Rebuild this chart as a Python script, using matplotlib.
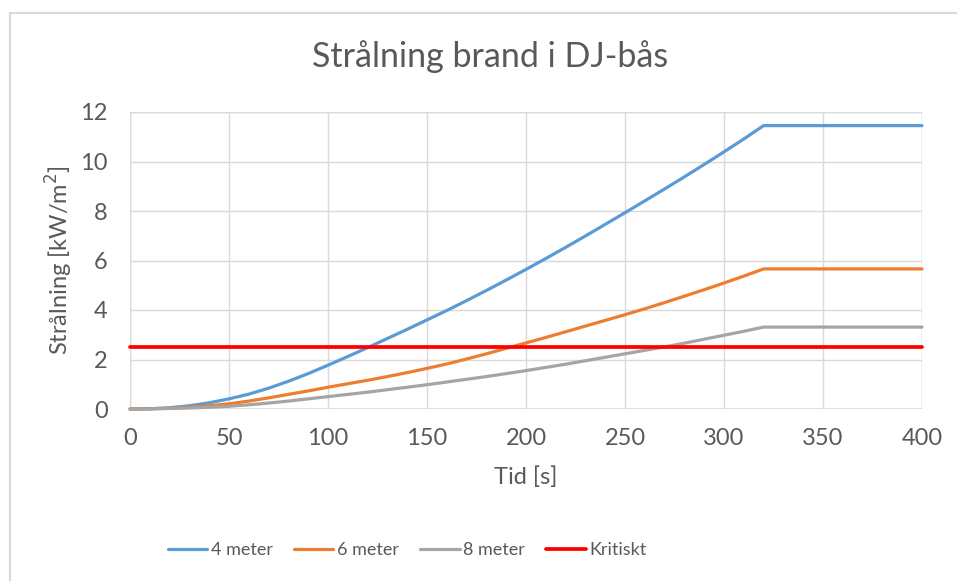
import matplotlib
matplotlib.use("Agg")
import matplotlib.pyplot as plt
from matplotlib.patches import Rectangle

plt.rcParams['font.family'] = ['Lato', 'DejaVu Sans']

# Time axis [s]
tid = [0, 10, 20, 30, 40, 50, 60, 70, 80, 90, 100, 110, 120, 130, 140, 150, 160,
       170, 180, 190, 200, 210, 220, 230, 240, 250, 260, 270, 280, 290, 300, 310, 320, 400]

# Radiation [kW/m2] at three distances from the fire
meter_4 = [0, 0.01, 0.05, 0.13, 0.25, 0.41, 0.60, 0.84, 1.12, 1.43, 1.77, 2.12, 2.48, 2.85,
           3.22, 3.60, 3.98, 4.38, 4.79, 5.21, 5.64, 6.08, 6.53, 6.99, 7.46, 7.93, 8.41,
           8.89, 9.38, 9.88, 10.39, 10.91, 11.45, 11.45]
meter_6 = [0, 0.01, 0.03, 0.07, 0.13, 0.21, 0.32, 0.45, 0.59, 0.73, 0.88, 1.02, 1.16, 1.31,
           1.47, 1.64, 1.82, 2.02, 2.23, 2.45, 2.67, 2.89, 3.12, 3.35, 3.58, 3.81, 4.05,
           4.30, 4.56, 4.82, 5.09, 5.37, 5.66, 5.66]
meter_8 = [0, 0.005, 0.02, 0.04, 0.07, 0.11, 0.17, 0.24, 0.32, 0.41, 0.50, 0.59, 0.68, 0.78,
           0.88, 0.98, 1.09, 1.20, 1.31, 1.43, 1.55, 1.68, 1.81, 1.95, 2.09, 2.23, 2.37,
           2.51, 2.66, 2.82, 2.98, 3.14, 3.31, 3.31]
kritiskt = [2.5] * len(tid)

series = [
    ("4 meter", meter_4, "#5B9BD5"),
    ("6 meter", meter_6, "#ED7D31"),
    ("8 meter", meter_8, "#A5A5A5"),
    ("Kritiskt", kritiskt, "#FF0000"),
]

x_ticks = [0, 50, 100, 150, 200, 250, 300, 350, 400]
y_ticks = [0, 2, 4, 6, 8, 10, 12]

text_color = "#595959"
grid_color = "#D9D9D9"

fig = plt.figure(figsize=(9.57, 5.81), dpi=100)
fig.patch.set_facecolor("white")

# chart-area frame
fig.patches.append(Rectangle((10 / 957, -0.05), 1.0, 1 - 13 / 581 + 0.05,
                             transform=fig.transFigure, fill=False,
                             edgecolor=grid_color, linewidth=1.5, zorder=0))

ax = fig.add_axes([130 / 957, 1 - 409 / 581, (922 - 130) / 957, (409 - 112) / 581])

for name, vals, col in series:
    lw = 2.7 if name == "Kritiskt" else 2.3
    ax.plot(tid, vals, color=col, linewidth=lw, label=name,
            solid_capstyle="round", solid_joinstyle="round", clip_on=False, zorder=3)

ax.set_xlim(0, 400)
ax.set_ylim(0, 12)
ax.set_xticks(x_ticks)
ax.set_yticks(y_ticks)
ax.grid(True, color=grid_color, linewidth=1.0)
ax.set_axisbelow(True)
for sp in ax.spines.values():
    sp.set_visible(False)
ax.axvline(0, color=grid_color, linewidth=1.0, zorder=1)
ax.axvline(400, color=grid_color, linewidth=1.0, zorder=1)
ax.axhline(12, color=grid_color, linewidth=1.0, zorder=1)
ax.axhline(0, color=grid_color, linewidth=1.2, zorder=1)

ax.tick_params(axis="both", length=0, labelsize=17, labelcolor=text_color)
ax.tick_params(axis="x", pad=14)
ax.tick_params(axis="y", pad=16)

ax.set_xlabel("Tid [s]", fontsize=17, color=text_color)
ax.set_ylabel("Strålning [kW/m$^2$]", fontsize=17, color=text_color)
ax.xaxis.set_label_coords(0.5, -(466 - 409) / 297)
ax.yaxis.set_label_coords(-(130 - 75) / 792, 0.5)

fig.text(490 / 957, 1 - 57 / 581, "Strålning brand i DJ-bås", ha="center", va="center",
         fontsize=24.5, color=text_color)

leg = fig.legend(loc="center", bbox_to_anchor=(407 / 957, 1 - 550 / 581), ncol=4,
                 frameon=False, fontsize=13, handlelength=2.2, handletextpad=0.2,
                 columnspacing=1.15)
for t in leg.get_texts():
    t.set_color(text_color)

fig.savefig("out.png", dpi=100)
